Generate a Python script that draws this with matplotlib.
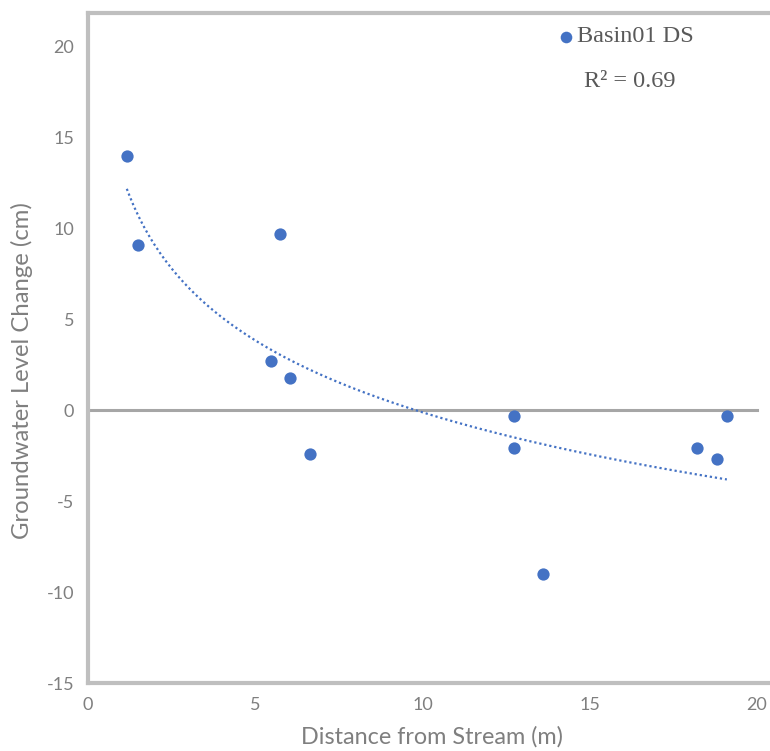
import numpy as np
import matplotlib.pyplot as plt

# Данные
distance = [1.16, 1.49, 5.75, 5.46, 6.05, 6.65, 12.73, 12.73, 13.6, 18.2, 18.8, 19.1]
gw_change = [14.0, 9.1, 9.7, 2.7, 1.8, -2.4, -0.3, -2.1, -9.0, -2.1, -2.7, -0.3]
series_name = "Basin01 DS"
r2_text = "R² = 0.69"
x_ticks = [0, 5, 10, 15, 20]
y_ticks = [-15, -10, -5, 0, 5, 10, 15, 20]

blue = '#4472C4'
grey_txt = '#7F7F7F'
grey_line = '#BFBFBF'

plt.rcParams['axes.unicode_minus'] = False

fig = plt.figure(figsize=(7.7, 7.51), dpi=100)
ax = fig.add_axes([0.1143, 0.0905, 0.8857, 0.8922])

# Логарифмический тренд y = a*ln(x) + b
x = np.array(distance)
y = np.array(gw_change)
a, b = np.polyfit(np.log(x), y, 1)
xs = np.linspace(x.min(), x.max(), 200)
ax.plot(xs, a * np.log(xs) + b, color=blue, lw=1.6, linestyle=(0, (1, 1.3)), zorder=2)

ax.axhline(0, xmin=0, xmax=20 / 20.39, color='#A6A6A6', lw=2.2, zorder=1)
ax.scatter(distance, gw_change, s=78, color=blue, zorder=3, linewidths=0)

ax.set_xlim(0, 20.39)
ax.set_ylim(-15, 21.85)
ax.set_xticks(x_ticks)
ax.set_yticks(y_ticks)
ax.tick_params(length=0, labelsize=13, labelcolor=grey_txt, pad=10)
for lbl in ax.get_xticklabels() + ax.get_yticklabels():
    lbl.set_family('Lato')

for side in ['left', 'top', 'bottom']:
    ax.spines[side].set_color(grey_line)
    ax.spines[side].set_linewidth(3)
ax.spines['right'].set_visible(False)

ax.set_xlabel("Distance from Stream (m)", fontsize=16.8, color=grey_txt, family='Lato', va='center')
ax.set_ylabel("Groundwater Level Change (cm)", fontsize=17.2, color=grey_txt, family='Lato', va='center')
ax.xaxis.set_label_coords(0.504, -0.081)
ax.yaxis.set_label_coords(-0.097, 0.466)

# Легенда и R²
ax.scatter([14.28], [20.55], s=70, color=blue, linewidths=0, clip_on=False)
ax.text(14.62, 20.55, series_name, fontsize=17.5, color='#595959', family='Liberation Serif', va='center')
ax.text(14.83, 18.1, r2_text, fontsize=17.5, color='#595959', family='Liberation Serif', va='center')

fig.savefig('out.png', dpi=100)
